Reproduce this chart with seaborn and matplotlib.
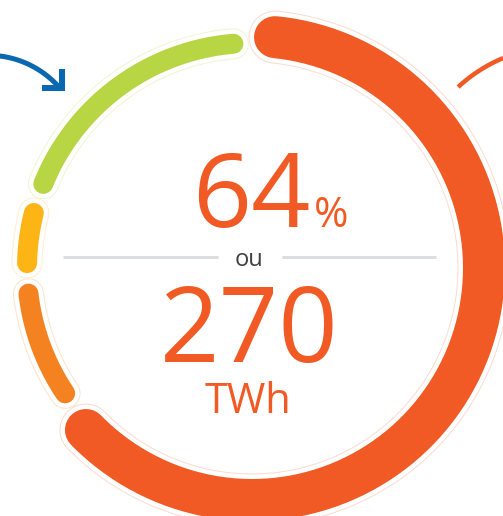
import numpy as np
import pandas as pd
import matplotlib
matplotlib.use("Agg")
import matplotlib.pyplot as plt
import seaborn as sns
from matplotlib.colors import to_rgb

# ---- data ----
segments = ["Principal", "Segment B", "Segment C", "Segment D"]
shares = [64, 9, 5, 19]          # percent of the ring (clockwise from top)
seg_colors = ["#F15A24", "#F58220", "#FDB515", "#B8D543"]
big_value = "64"
big_unit = "%"
sep_word = "ou"
energy_value = "270"
energy_unit = "TWh"

sns.set_theme(style="white")
plt.rcParams["font.family"] = ["Open Sans", "DejaVu Sans"]

W, H, DPI = 503, 516, 100
fig = plt.figure(figsize=(W / DPI, H / DPI), dpi=DPI)
ax = fig.add_axes([0, 0, 1, 1])
ax.set_xlim(0, W)
ax.set_ylim(H, 0)
ax.axis("off")

PX = 72.0 / DPI  # points per pixel
cx, cy = 252, 268
gap = 0.75          # percent gap between segments
start = 0.5 / 3.6   # start just right of top (percent)


def pale(c, f=0.8):
    r, g, b = to_rgb(c)
    return (r + (1 - r) * f, g + (1 - g) * f, b + (1 - b) * f)


def arc_df(a0, a1, r, n=200):
    # clock angles in degrees (0 = top, clockwise)
    t = np.radians(np.linspace(a0, a1, n))
    return pd.DataFrame({"x": cx + r * np.sin(t), "y": cy - r * np.cos(t)})


arcs = []
pos = start
for i, (name, v, c) in enumerate(zip(segments, shares, seg_colors)):
    a0, a1 = pos * 3.6, (pos + v) * 3.6
    if i == 0:
        r, lw = 232, 42
    else:
        r, lw = 225, 20
    cap = np.degrees((lw / 2) / r)
    arcs.append((arc_df(a0 + cap, a1 - cap, r), c, lw))
    pos += v + gap

# halos
for df, c, lw in arcs:
    sns.lineplot(data=df, x="x", y="y", sort=False, estimator=None, ax=ax,
                 color=pale(c, 0.78), lw=(lw + 11) * PX, solid_capstyle="round")
    sns.lineplot(data=df, x="x", y="y", sort=False, estimator=None, ax=ax,
                 color="white", lw=(lw + 9) * PX, solid_capstyle="round")
for df, c, lw in arcs:
    sns.lineplot(data=df, x="x", y="y", sort=False, estimator=None, ax=ax,
                 color=c, lw=lw * PX, solid_capstyle="round")

# decorative blue arrow (top-left)
t = np.radians(np.linspace(-97.2, -42.5, 80))
ax.plot(-11.8 + 94.7 * np.cos(t), 150 + 94.7 * np.sin(t), color="#0868B0",
        lw=5 * PX, solid_capstyle="butt")
ax.plot([42, 62, 62], [88, 88, 69], color="#0868B0", lw=6 * PX,
        solid_joinstyle="miter", solid_capstyle="butt")

# decorative thin orange arc (top-right)
t = np.radians(np.linspace(-132.9, -112.6, 60))
ax.plot(561.6 + 152 * np.cos(t), 198.4 + 152 * np.sin(t), color="#F15A24",
        lw=4.5 * PX, solid_capstyle="butt")

# separator lines
ax.plot([63, 218], [257, 257], color="#DCDDDE", lw=3 * PX, solid_capstyle="butt")
ax.plot([282, 436], [257, 257], color="#DCDDDE", lw=3 * PX, solid_capstyle="butt")

orange = "#F15A24"
ax.text(251, 227, big_value, color=orange, fontsize=74.5, ha="center", va="baseline")
ax.text(314, 227, big_unit, color=orange, fontsize=30, ha="left", va="baseline")
ax.text(249, 266, sep_word, color="#3F4041", fontsize=17, ha="center", va="baseline")
ax.text(249, 362, energy_value, color=orange, fontsize=75, ha="center", va="baseline")
ax.text(248.5, 413, energy_unit, color=orange, fontsize=30, ha="center", va="baseline")

fig.savefig("out.png", dpi=DPI, facecolor="white")
